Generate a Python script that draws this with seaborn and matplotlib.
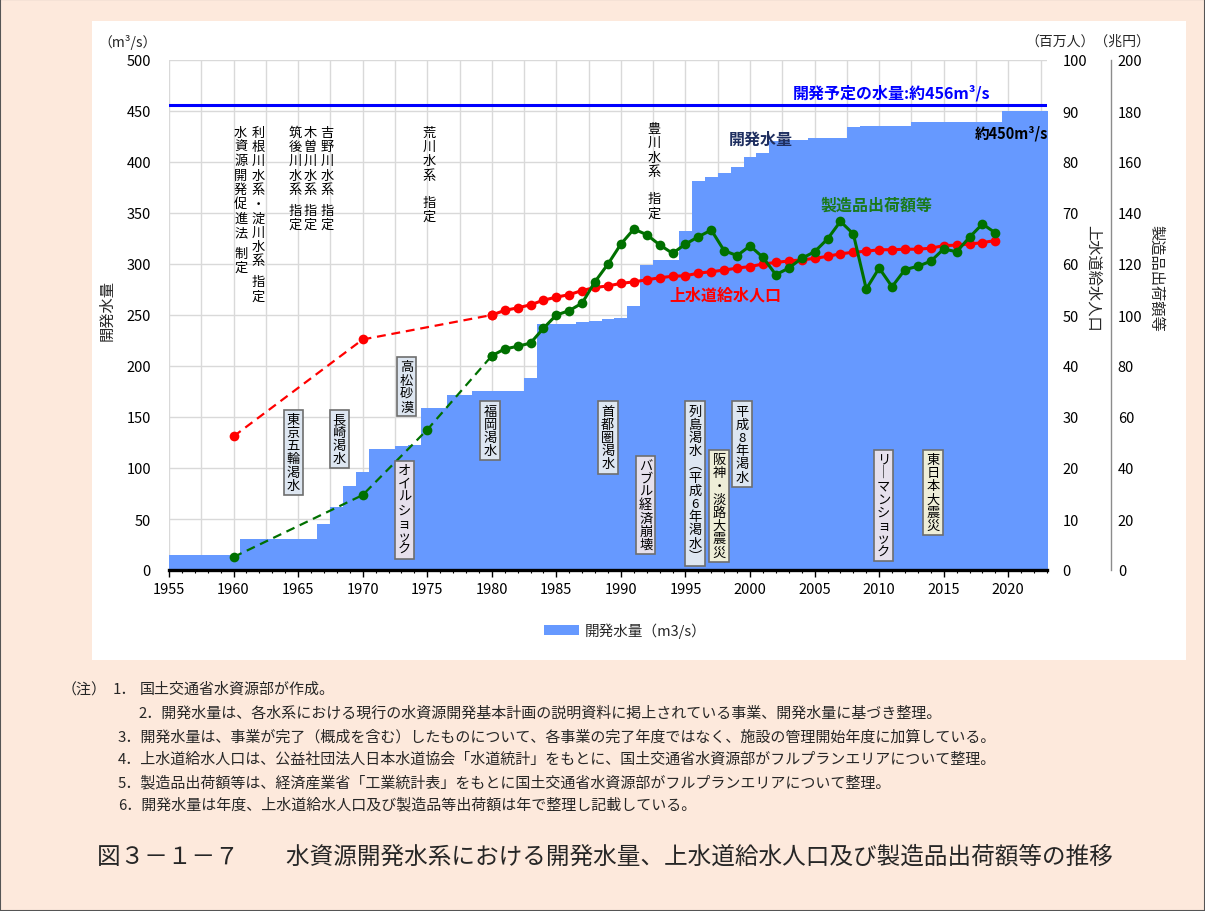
import numpy as np
import matplotlib
matplotlib.use("Agg")
import matplotlib.pyplot as plt
import seaborn as sns
from matplotlib.patches import Rectangle, Patch
from matplotlib.ticker import MultipleLocator

# ---------------- data ----------------
# developed water volume (m3/s), step series: fiscal year where a new level starts
dev_year = [1955, 1961, 1967, 1968, 1969, 1970, 1971, 1973, 1974, 1975, 1977, 1979,
            1983, 1984, 1987, 1988, 1989, 1990, 1991, 1992, 1993, 1995, 1996, 1997,
            1998, 1999, 2000, 2001, 2002, 2003, 2005, 2008, 2009, 2013, 2020]
dev_value = [15, 30, 45, 61.5, 82.7, 95.8, 118.6, 121.3, 122.5, 158.5, 171.9, 175.5,
             188, 241, 243.4, 244.4, 246, 246.7, 258.5, 299.3, 304, 332, 381.7, 385.6,
             389, 394.8, 405, 408.5, 421, 422, 423.5, 434, 435.6, 439, 450]
planned_volume = 456

# water-supply population (million people)
pop_year_early = [1960, 1970, 1980]
pop_early = [26.2, 45.2, 50.0]
pop_year = [1980, 1981, 1982, 1983, 1984, 1985, 1986, 1987, 1988, 1989,
            1990, 1991, 1992, 1993, 1994, 1995, 1996, 1997, 1998, 1999,
            2000, 2001, 2002, 2003, 2004, 2005, 2006, 2007, 2008, 2009,
            2010, 2011, 2012, 2013, 2014, 2015, 2016, 2017, 2018, 2019]
pop_value = [50.0, 50.9, 51.4, 52.0, 52.9, 53.5, 54.0, 54.8, 55.4, 55.7,
             56.2, 56.5, 56.9, 57.3, 57.6, 57.7, 58.2, 58.5, 58.8, 59.2,
             59.5, 60.0, 60.3, 60.6, 60.8, 61.1, 61.5, 62.0, 62.3, 62.5,
             62.8, 62.8, 62.9, 62.9, 63.1, 63.6, 63.7, 63.9, 64.2, 64.6]

# manufactured goods shipments (trillion yen)
mfg_year_early = [1960, 1970, 1975, 1980]
mfg_early = [5.1, 29.4, 55.0, 84.0]
mfg_year = pop_year
mfg_value = [84.0, 86.7, 87.7, 89.0, 94.8, 100.0, 101.7, 104.7, 113.1, 120.0,
             127.8, 133.7, 131.5, 127.5, 124.2, 127.8, 130.7, 133.3, 125.2, 123.3,
             127.1, 122.6, 115.8, 118.4, 122.2, 124.8, 129.8, 136.7, 131.8, 110.2,
             118.4, 111.1, 117.8, 119.1, 121.1, 125.9, 124.8, 130.5, 135.7, 132.2]

# event labels (text, year, top value on left axis, box colour key)
plain_labels = [
    ("水資源開発促進法 制定", 1960.55, 435.6),
    ("利根川水系・淀川水系 指定", 1961.92, 435.6),
    ("筑後川水系 指定", 1964.76, 435.6),
    ("木曽川水系 指定", 1965.92, 435.6),
    ("吉野川水系 指定", 1967.24, 435.6),
    ("荒川水系  指定", 1975.14, 435.6),
    ("豊川水系  指定", 1992.57, 439.2),
]
boxed_labels = [
    ("東京五輪渇水", 1964.63, 154.2, "drought"),
    ("長崎渇水", 1968.19, 154.2, "drought"),
    ("高松砂漠", 1973.41, 205.6, "drought"),
    ("オイルショック", 1973.23, 104.2, "economy"),
    ("福岡渇水", 1979.86, 162.1, "drought"),
    ("首都圏渇水", 1988.98, 162.1, "drought"),
    ("バブル経済崩壊", 1991.92, 109.1, "economy"),
    ("列島渇水（平成6年渇水）", 1995.74, 162.1, "drought"),
    ("阪神・淡路大震災", 1997.60, 114.7, "quake"),
    ("平成8年渇水", 1999.36, 162.1, "drought"),
    ("リーマンショック", 2010.33, 115.0, "economy"),
    ("東日本大震災", 2014.16, 115.0, "quake"),
]
box_colors = {"drought": "#dde6f1", "economy": "#e6e0ec", "quake": "#eeeed8"}

x_ticks = list(range(1955, 2021, 5))

notes = [
    "2．開発水量は、各水系における現行の水資源開発基本計画の説明資料に掲上されている事業、開発水量に基づき整理。",
    "3．開発水量は、事業が完了（概成を含む）したものについて、各事業の完了年度ではなく、施設の管理開始年度に加算している。",
    "4．上水道給水人口は、公益社団法人日本水道協会「水道統計」をもとに、国土交通省水資源部がフルプランエリアについて整理。",
    "5．製造品出荷額等は、経済産業省「工業統計表」をもとに国土交通省水資源部がフルプランエリアについて整理。",
    "6．開発水量は年度、上水道給水人口及び製造品等出荷額は年で整理し記載している。",
]
title = "図３－１－７　　水資源開発水系における開発水量、上水道給水人口及び製造品出荷額等の推移"

# ---------------- style ----------------
sns.set_theme(style="white")
plt.rcParams["font.family"] = ["Noto Sans CJK JP", "DejaVu Sans"]
plt.rcParams["axes.unicode_minus"] = False

W, H = 1205, 912
fig = plt.figure(figsize=(W / 100, H / 100), dpi=100)
BG = "#fde9dc"
fig.patch.set_facecolor(BG)


def fx(px):
    return px / W


def fy(py):
    return 1 - py / H


fig.add_artist(Rectangle((0, 0), 1, 1, transform=fig.transFigure, facecolor="none",
                         edgecolor="#555555", lw=1.5, zorder=0))
fig.add_artist(Rectangle((fx(92), fy(661)), fx(1186) - fx(92), fy(22) - fy(661),
                         transform=fig.transFigure, facecolor="white", edgecolor="none", zorder=0))

XMIN, XMAX = 1955, 2023
ax = fig.add_axes([fx(169), fy(571), fx(1047) - fx(169), fy(61) - fy(571)])
ax.set_facecolor("white")
ax.set_xlim(XMIN, XMAX)
ax.set_ylim(0, 500)

# grid
GRID = "#d9d9d9"
ax.set_axisbelow(True)
ax.yaxis.set_major_locator(MultipleLocator(50))
ax.grid(axis="y", color=GRID, lw=1, zorder=0)
ax.grid(axis="x", visible=False)
ax.vlines(np.arange(XMIN, XMAX, 2.5), 0, 500, color=GRID, lw=1, zorder=0.5)

# stepped area for developed water volume
x_edges = np.append(np.array(dev_year, dtype=float) - 0.5, XMAX + 0.5)
y_edges = np.append(np.array(dev_value, dtype=float), dev_value[-1])
AREA = "#6699ff"
ax.fill_between(x_edges, y_edges, step="post", color=AREA, lw=0, zorder=1)
ax.axhline(planned_volume, color="#0000ff", lw=2.2, zorder=3)

# axes styling
for s in ["top", "left", "right"]:
    ax.spines[s].set_visible(False)
ax.spines["bottom"].set_color("black")
ax.spines["bottom"].set_linewidth(2.4)
ax.spines["bottom"].set_zorder(5)
ax.xaxis.set_major_locator(MultipleLocator(5))
ax.xaxis.set_minor_locator(MultipleLocator(1))
ax.set_xticks(x_ticks)
TICK_FS = 10.5
ax.tick_params(axis="x", which="major", length=5, width=1, color="black", direction="out",
               pad=4, labelsize=TICK_FS, labelcolor="black", bottom=True)
ax.tick_params(axis="x", which="minor", length=2, width=0.8, color="black", direction="out",
               bottom=True)
ax.tick_params(axis="y", length=0, pad=13, labelsize=TICK_FS, labelcolor="black")

ax2 = ax.twinx()
ax2.set_ylim(0, 100)
ax2.yaxis.set_major_locator(MultipleLocator(10))
ax3 = ax.twinx()
ax3.set_ylim(0, 200)
ax3.yaxis.set_major_locator(MultipleLocator(20))
ax3.spines["right"].set_position(("outward", 46))
for a in (ax2, ax3):
    for s in ["top", "left", "bottom"]:
        a.spines[s].set_visible(False)
    a.patch.set_visible(False)
ax2.spines["right"].set_visible(False)
ax3.spines["right"].set_color("#8c8c8c")
ax3.spines["right"].set_linewidth(1)
ax2.tick_params(axis="y", length=0, pad=11, labelsize=TICK_FS, labelcolor="black")
ax3.tick_params(axis="y", length=0, pad=5, labelsize=TICK_FS, labelcolor="black")

# lines
RED = "#ff0000"
GREEN = "#007000"
sns.lineplot(x=pop_year_early, y=pop_early, ax=ax2, color=RED, lw=1.6,
             linestyle=(0, (4, 2.6)), marker="o", markersize=7, markeredgewidth=0)
sns.lineplot(x=pop_year, y=pop_value, ax=ax2, color=RED, lw=2.2,
             marker="o", markersize=7, markeredgewidth=0)
sns.lineplot(x=mfg_year_early, y=mfg_early, ax=ax3, color=GREEN, lw=1.6,
             linestyle=(0, (4, 2.6)), marker="o", markersize=7, markeredgewidth=0)
sns.lineplot(x=mfg_year, y=mfg_value, ax=ax3, color=GREEN, lw=2.2,
             marker="o", markersize=7, markeredgewidth=0)
for a in (ax, ax2, ax3):
    a.set_xlabel("")
    a.set_ylabel("")
ax.set_xlim(XMIN, XMAX)

# vertical (tategaki) labels without box
PITCH = 10.3
for text, xv, yv in plain_labels:
    k = 0.0
    for ch in text:
        if ch == " ":
            k += 0.45
            continue
        ax3.annotate(ch, xy=(xv, yv), xycoords=ax.transData, xytext=(0, -k * PITCH),
                     textcoords="offset points", ha="center", va="top", fontsize=9.5,
                     color="black", zorder=6)
        k += 1.0

# boxed vertical labels
vert_map = {"ー": "｜", "（": "︵", "）": "︶"}
for text, xv, yv, kind in boxed_labels:
    vt = "\n".join(vert_map.get(c, c) for c in text)
    ax3.text(xv, yv, vt, transform=ax.transData, ha="center", va="top", fontsize=9.5,
             linespacing=1.02, color="black", zorder=7,
             bbox=dict(boxstyle="square,pad=0.24", fc=box_colors[kind], ec="#6e6e6e", lw=1.2))

# series labels
ax3.text(2018.6, 468.6, "開発予定の水量:約456m³/s", transform=ax.transData, ha="right",
         va="center", fontsize=11.5, fontweight="bold", color="#0000ff", zorder=8)
ax3.text(2017.4, 429, "約450m³/s", transform=ax.transData, ha="left", va="center",
         fontsize=10.5, fontweight="bold", color="black", zorder=8)
ax3.text(2000.8, 422.5, "開発水量", transform=ax.transData, ha="center", va="center",
         fontsize=11.5, fontweight="bold", color="#1f2f60", zorder=8)
ax3.text(2009.8, 357.8, "製造品出荷額等", transform=ax.transData, ha="center", va="center",
         fontsize=11.5, fontweight="bold", color="#1a7a1a", zorder=8)
ax3.text(1998.1, 269.6, "上水道給水人口", transform=ax.transData, ha="center", va="center",
         fontsize=11.5, fontweight="bold", color="#ff0000", zorder=8)

# axis titles
fig.text(fx(128), fy(42), "（m³/s）", ha="center", va="center", fontsize=10)
fig.text(fx(1088), fy(42), "（百万人）（兆円）", ha="center", va="center", fontsize=10)
fig.text(fx(107), fy(311), "開発水量", rotation=90, ha="center", va="center", fontsize=11)
fig.text(fx(1093), fy(278), "上水道給水人口", rotation=270, ha="center", va="center", fontsize=11)
fig.text(fx(1156), fy(278), "製造品出荷額等", rotation=270, ha="center", va="center", fontsize=11)

# legend
fig.legend(handles=[Patch(facecolor=AREA, edgecolor="none", label="開発水量（m3/s）")],
           loc="center", bbox_to_anchor=(fx(625), fy(631)), frameon=False, fontsize=10.5,
           handlelength=2.4, handleheight=0.65, handletextpad=0.4)

# notes
NOTE_FS = 10.8
fig.text(fx(62), fy(690), "（注）", ha="left", va="center", fontsize=NOTE_FS)
fig.text(fx(113), fy(690), "1．", ha="left", va="center", fontsize=NOTE_FS)
fig.text(fx(140), fy(690), "国土交通省水資源部が作成。", ha="left", va="center", fontsize=NOTE_FS)
note_x = [138, 118, 118, 118, 118]
note_y = [714, 737, 760, 783, 805]
for t, nx, ny in zip(notes, note_x, note_y):
    fig.text(fx(nx), fy(ny), t, ha="left", va="center", fontsize=NOTE_FS)

fig.text(fx(97), fy(857), title, ha="left", va="center", fontsize=17)

fig.savefig("out.png", dpi=100, facecolor=BG)
